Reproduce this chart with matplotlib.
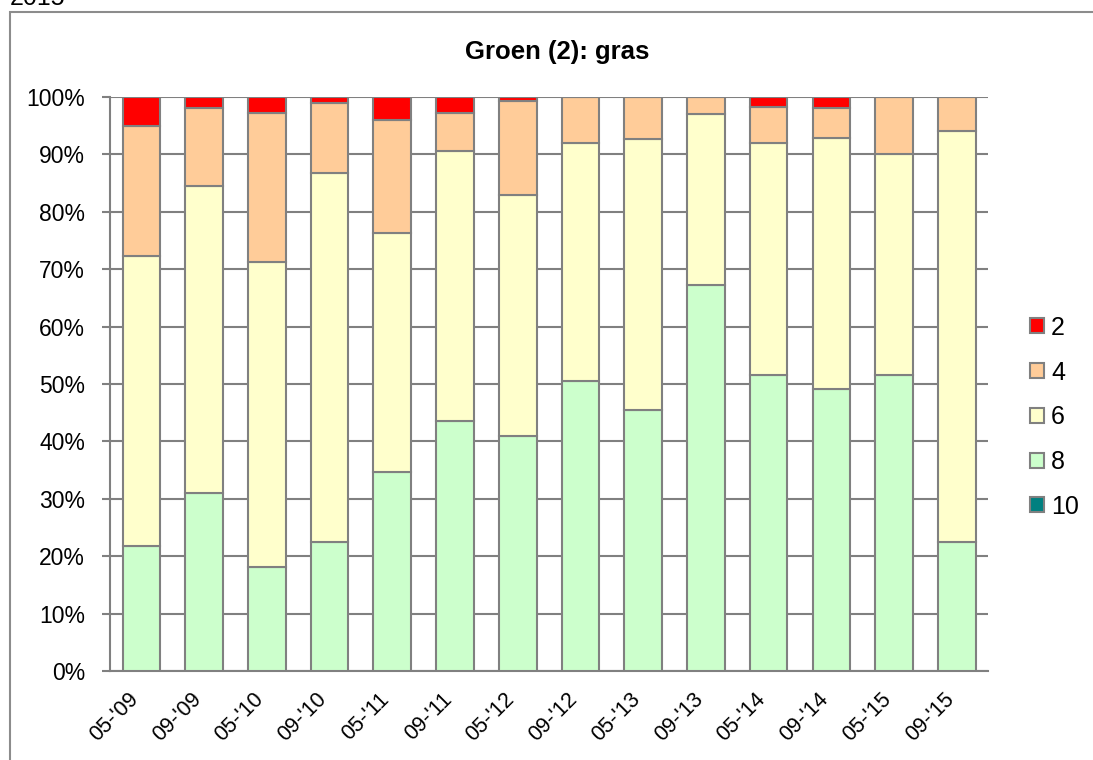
import matplotlib
matplotlib.use("Agg")
import matplotlib.pyplot as plt
import numpy as np
from matplotlib.patches import Rectangle
from matplotlib.transforms import ScaledTranslation

categories = ["05-'09", "09-'09", "05-'10", "09-'10", "05-'11", "09-'11", "05-'12",
              "09-'12", "05-'13", "09-'13", "05-'14", "09-'14", "05-'15", "09-'15"]
series_names = ["2", "4", "6", "8", "10"]
s8 = [21.8, 31.0, 18.2, 22.5, 34.6, 43.5, 41.0, 50.5, 45.4, 67.3, 51.5, 49.1, 51.5, 22.4]
s6 = [50.5, 53.5, 53.1, 64.3, 41.7, 47.1, 42.0, 41.5, 47.2, 29.7, 40.5, 43.7, 38.5, 71.6]
s4 = [22.7, 13.5, 25.9, 12.2, 19.7, 6.6, 16.3, 8.0, 7.4, 3.0, 6.2, 5.2, 10.0, 6.0]
s2 = [5.0, 2.0, 2.8, 1.0, 4.0, 2.8, 0.7, 0.0, 0.0, 0.0, 1.8, 2.0, 0.0, 0.0]
s10 = [0.0] * 14

colors = {"2": "#FF0000", "4": "#FFCC99", "6": "#FFFFCC", "8": "#CCFFCC", "10": "#008080"}
FONT = "Liberation Sans"

fig = plt.figure(figsize=(10.93, 7.6), dpi=100)
ax = fig.add_axes([0.1006, 0.1171, 0.8035, 0.7553])

# outer frame
fig.patches.append(Rectangle((10 / 1093, -0.1), 1.2, 1 - 12 / 760 + 0.1,
                             transform=fig.transFigure, fill=False,
                             edgecolor="#8C8C8C", linewidth=1.5))
fig.text(10 / 1093, 1 - 5 / 760, "2015", fontsize=18, ha="left", va="baseline",
         family=FONT)

x = np.arange(len(categories))
stack = [("10", s10), ("8", s8), ("6", s6), ("4", s4), ("2", s2)]
tot = np.array(s2) + np.array(s4) + np.array(s6) + np.array(s8) + np.array(s10)
bottom = np.zeros(len(categories))
handles = {}
for name, vals in stack:
    v = np.array(vals) / tot * 100
    b = ax.bar(x, v, bottom=bottom, width=0.6, color=colors[name],
               edgecolor="#808080", linewidth=1.5, zorder=3, label=name)
    handles[name] = b
    bottom += v

ax.set_xlim(-0.5, len(categories) - 0.5)
ax.set_ylim(0, 100)
ax.set_yticks(np.arange(0, 101, 10))
ax.set_yticklabels([f"{v}%" for v in range(0, 101, 10)], fontsize=16.5, family=FONT)
ax.set_xticks(x)
ax.set_xticklabels(categories, rotation=45, ha="right", va="center",
                   rotation_mode="anchor", fontsize=15.5, family=FONT)
ax.tick_params(axis="x", length=0, pad=18)
ax.tick_params(axis="y", length=6, color="#808080", width=1.5, pad=12)
shift = ScaledTranslation(-6 / 100, 0, fig.dpi_scale_trans)
for lbl in ax.get_xticklabels():
    lbl.set_transform(lbl.get_transform() + shift)
ax.yaxis.grid(True, color="#808080", linewidth=1.5, zorder=0)
for sp in ["top", "right"]:
    ax.spines[sp].set_visible(False)
for sp in ["left", "bottom"]:
    ax.spines[sp].set_color("#808080")
    ax.spines[sp].set_linewidth(1.5)

fig.text(557 / 1093, 1 - 52 / 760, "Groen (2): gras", fontsize=18.5,
         fontweight="bold", family=FONT, ha="center", va="center")

leg = ax.legend([handles[n] for n in series_names], series_names,
                loc="center left", bbox_to_anchor=(1.0476, 0.442), frameon=False,
                prop={"family": FONT, "size": 18},
                handlelength=0.55, handleheight=0.55, handletextpad=0.3,
                labelspacing=0.83, borderaxespad=0, borderpad=0)

fig.savefig("out.png", dpi=100)
